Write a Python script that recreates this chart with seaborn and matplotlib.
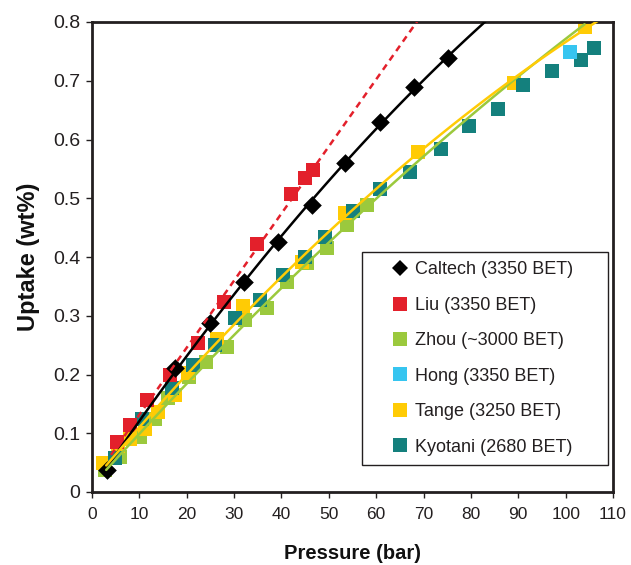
import matplotlib
matplotlib.use('Agg')
import matplotlib.pyplot as plt
from matplotlib.lines import Line2D
from matplotlib.patches import Rectangle
import seaborn as sns
import numpy as np

# values
caltech_p = [3.1, 17.5, 24.9, 32.1, 39.3, 46.5, 53.4, 60.8, 68.0, 75.2]
caltech_u = [0.037, 0.211, 0.288, 0.357, 0.426, 0.488, 0.560, 0.630, 0.689, 0.739]

liu_p = [5.2, 8.0, 11.6, 16.5, 22.4, 27.9, 34.8, 42.0, 45.0, 46.7]
liu_u = [0.085, 0.114, 0.156, 0.199, 0.254, 0.323, 0.422, 0.507, 0.535, 0.548]

zhou_p = [2.7, 5.9, 10.1, 13.3, 16.1, 20.4, 24.1, 28.5, 32.3, 36.9, 41.1, 45.4, 49.6, 53.8, 58.1]
zhou_u = [0.037, 0.06, 0.094, 0.124, 0.16, 0.195, 0.222, 0.247, 0.293, 0.313, 0.358, 0.39, 0.416, 0.454, 0.489]

hong_p = [100.9]
hong_u = [0.749]

tange_p = [2.3, 5.5, 8.0, 11.2, 14.0, 17.5, 20.3, 26.4, 31.9, 44.3, 53.4, 68.8, 89.1, 104.1]
tange_u = [0.05, 0.078, 0.09, 0.107, 0.136, 0.165, 0.203, 0.26, 0.317, 0.392, 0.475, 0.578, 0.697, 0.791]

kyotani_p = [4.9, 10.6, 16.9, 21.3, 26.0, 30.2, 35.5, 40.3, 45.0, 49.2, 55.1, 60.8, 67.1,
             73.7, 79.6, 85.7, 91.0, 97.1, 103.2, 106.0]
kyotani_u = [0.058, 0.125, 0.177, 0.216, 0.25, 0.296, 0.327, 0.369, 0.4, 0.434, 0.478, 0.515, 0.544,
             0.584, 0.623, 0.652, 0.693, 0.717, 0.735, 0.756]

labels = ['Caltech (3350 BET)', 'Liu (3350 BET)', 'Zhou (~3000 BET)',
          'Hong (3350 BET)', 'Tange (3250 BET)', 'Kyotani (2680 BET)']
x_ticks = list(range(0, 111, 10))
y_ticks = [0, 0.1, 0.2, 0.3, 0.4, 0.5, 0.6, 0.7, 0.8]
y_tick_labels = ['0', '0.1', '0.2', '0.3', '0.4', '0.5', '0.6', '0.7', '0.8']

colors = {'Caltech': '#000000', 'Liu': '#E3202B', 'Zhou': '#9BC93D',
          'Hong': '#36C5F0', 'Tange': '#FFCB05', 'Kyotani': '#14807D'}
ink = '#231F20'

sns.set_style('ticks')
plt.rcParams['font.family'] = ['Liberation Sans', 'DejaVu Sans']

fig = plt.figure(figsize=(6.31, 5.65), dpi=100)
ax = fig.add_axes([92 / 631, 73 / 565, 521 / 631, 470 / 565])

# markers
sq = 100
sns.scatterplot(x=zhou_p, y=zhou_u, marker='s', s=sq, color=colors['Zhou'], linewidth=0, ax=ax, zorder=2)
sns.scatterplot(x=tange_p, y=tange_u, marker='s', s=sq, color=colors['Tange'], linewidth=0, ax=ax, zorder=2)
sns.scatterplot(x=kyotani_p, y=kyotani_u, marker='s', s=sq, color=colors['Kyotani'], linewidth=0, ax=ax, zorder=2)
sns.scatterplot(x=hong_p, y=hong_u, marker='s', s=sq, color=colors['Hong'], linewidth=0, ax=ax, zorder=2)
sns.scatterplot(x=liu_p, y=liu_u, marker='s', s=sq, color=colors['Liu'], linewidth=0, ax=ax, zorder=3)
sns.scatterplot(x=caltech_p, y=caltech_u, marker='D', s=90, color=colors['Caltech'], linewidth=0, ax=ax, zorder=4)

# trend lines (polynomial fits of the data above)
def fit_line(p, u, x0, x1, deg=2):
    c = np.polyfit(p, u, deg)
    xs = np.linspace(x0, x1, 100)
    return xs, np.polyval(c, xs)

xs, ys = fit_line(caltech_p, caltech_u, 3, 90)
sns.lineplot(x=xs, y=ys, color=colors['Caltech'], lw=1.8, ax=ax, zorder=5)
xs, ys = fit_line(liu_p, liu_u, 4, 75, deg=1)
sns.lineplot(x=xs, y=ys, color=colors['Liu'], lw=1.8, linestyle=(0, (2.6, 2.0)), ax=ax, zorder=5)
xs, ys = fit_line(zhou_p, zhou_u, 3, 104)
sns.lineplot(x=xs, y=ys, color=colors['Zhou'], lw=1.8, ax=ax, zorder=5)
xs, ys = fit_line(tange_p, tange_u, 3, 108)
sns.lineplot(x=xs, y=ys, color=colors['Tange'], lw=1.8, ax=ax, zorder=5)

ax.set_xlim(0, 110)
ax.set_ylim(0, 0.8)
ax.set_xticks(x_ticks)
ax.set_xticklabels([str(t) for t in x_ticks], fontsize=12.5)
ax.set_yticks(y_ticks)
ax.set_yticklabels(y_tick_labels, fontsize=14)
for s in ax.spines.values():
    s.set_linewidth(2.0)
    s.set_color(ink)
ax.tick_params(length=4.5, width=1.0, color=ink, labelcolor=ink)
ax.tick_params(axis='x', pad=6)
ax.tick_params(axis='y', pad=4)
ax.set_xlabel('Pressure (bar)', fontsize=14.5, fontweight='bold', labelpad=16, color='#111111')
ax.set_ylabel('Uptake (wt%)', fontsize=17, fontweight='bold', labelpad=9, color='#111111')

# legend box drawn separately (wide side padding as in the original)
ax.add_patch(Rectangle((0.518, 0.0574), 0.472, 0.4532, transform=ax.transAxes,
                       facecolor='white', edgecolor=ink, lw=1.0, zorder=8))

handles = [Line2D([], [], ls='none', marker='D', ms=8.5, color=colors['Caltech'], mew=0)]
for k in ['Liu', 'Zhou', 'Hong', 'Tange', 'Kyotani']:
    handles.append(Line2D([], [], ls='none', marker='s', ms=9.5, color=colors[k], mew=0))
leg = ax.legend(handles, labels, loc='center left', bbox_to_anchor=(0.574, 0.284),
                borderaxespad=0, fontsize=13, frameon=False,
                labelspacing=1.02, handlelength=1.0, handletextpad=0.3, borderpad=0)
leg.set_zorder(9)
for t in leg.get_texts():
    t.set_color(ink)

fig.savefig('out.png', dpi=100)
